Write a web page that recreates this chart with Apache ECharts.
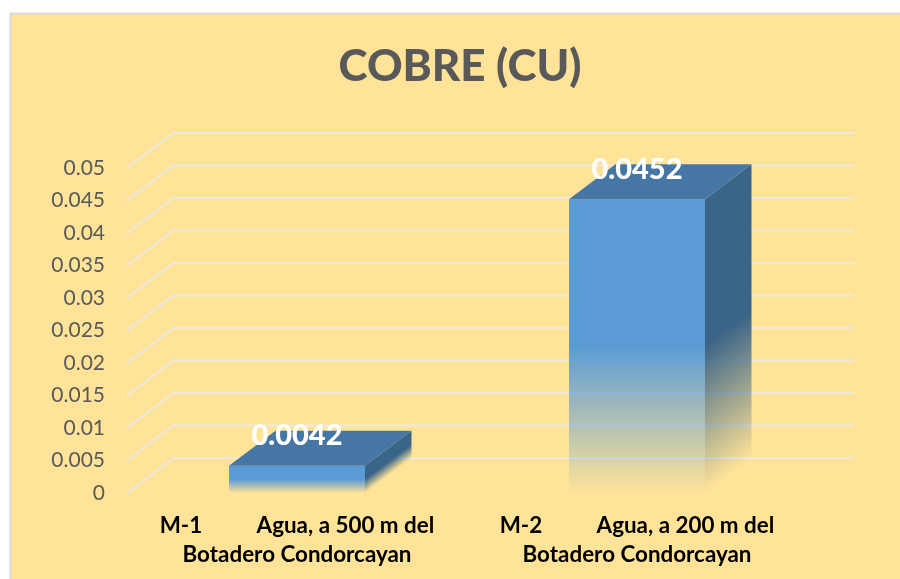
<!DOCTYPE html>
<html>
<head>
<meta charset="utf-8">
<style>html,body{margin:0;padding:0;background:#fff}#c{width:900px;height:579px}</style>
<script src="https://cdn.jsdelivr.net/npm/echarts@6/dist/echarts.min.js"></script>
</head>
<body>
<div id="c"></div>
<script>
var titleText = 'COBRE (CU)';
var categories = ['M-1          Agua, a 500 m del\nBotadero Condorcayan', 'M-2          Agua, a 200 m del\nBotadero Condorcayan'];
var values = [0.0042, 0.0452];
var valueLabels = ['0.0042', '0.0452'];
var yTicks = [0, 0.005, 0.01, 0.015, 0.02, 0.025, 0.03, 0.035, 0.04, 0.045, 0.05];

var DX = 46.5, DY = -35;
var FONT = 'Lato, "Noto Sans", sans-serif';
var FRONT = '#5B9BD5', SIDE = '#3B6587', TOP = '#4676A3', GRID = '#ECE9E0', BG = '#FEE398';

function fade(hex, a) {
  var n = parseInt(hex.slice(1), 16);
  return 'rgba(' + (n >> 16) + ',' + ((n >> 8) & 255) + ',' + (n & 255) + ',' + a + ')';
}
function fadeStops(hex) {
  return [
    {offset: 0, color: fade(hex, 1)},
    {offset: 0.5, color: fade(hex, 1)},
    {offset: 1, color: fade(hex, 0)}
  ];
}

function renderGrid(params, api) {
  var cs = params.coordSys;
  var y = api.coord([0, api.value(1)])[1];
  var x0 = cs.x, x1 = cs.x + cs.width;
  return {
    type: 'polyline',
    shape: {points: [[x0, y], [x0 + DX, y + DY], [x1 + DX, y + DY]]},
    style: {stroke: GRID, lineWidth: 2, fill: null},
    silent: true
  };
}

function renderBar(params, api) {
  var idx = api.value(0);
  var v = api.value(1);
  var top = api.coord([idx, v]);
  var base = api.coord([idx, 0]);
  var w = api.size([1, 0])[0] / 2.5;
  var l = top[0] - w / 2, r = top[0] + w / 2;
  var t = top[1], b = base[1];
  var h = b - t;
  var len = Math.sqrt(DX * DX + DY * DY);
  var ux = -DY / len, uy = DX / len;
  var run = h * uy;
  var sideGrad = new echarts.graphic.LinearGradient(
    r, t, r + ux * run, t + uy * run, fadeStops(SIDE), true);
  var frontGrad = new echarts.graphic.LinearGradient(0, 0, 0, 1, fadeStops(FRONT));
  return {
    type: 'group',
    children: [
      {type: 'polygon',
       shape: {points: [[r, t], [r + DX, t + DY], [r + DX, b + DY], [r, b]]},
       style: {fill: sideGrad}},
      {type: 'rect',
       shape: {x: l, y: t, width: w, height: h},
       style: {fill: frontGrad}},
      {type: 'polygon',
       shape: {points: [[l, t], [l + DX, t + DY], [r + DX, t + DY], [r, t]]},
       style: {fill: TOP}},
      {type: 'text',
       x: top[0], y: t - 30,
       z2: 10,
       style: {text: valueLabels[idx], fill: '#FFFFFF', font: '900 29px ' + FONT,
               align: 'center', verticalAlign: 'middle'}}
    ]
  };
}

var chart = echarts.init(document.getElementById('c'), null, {renderer: 'canvas'});
chart.setOption({
  animation: false,
  backgroundColor: '#FFFFFF',
  graphic: [{
    type: 'rect', z: -100, silent: true,
    shape: {x: 10.5, y: 13.5, width: 900, height: 600},
    style: {fill: BG, stroke: '#D9D9D9', lineWidth: 2}
  }],
  title: {
    text: titleText, left: 455, top: 40, textAlign: 'center',
    textStyle: {color: '#595959', fontFamily: FONT, fontWeight: 900, fontSize: 44}
  },
  grid: {left: 127, top: 168, width: 680, height: 325},
  xAxis: {
    type: 'category', data: categories,
    axisLine: {show: false}, axisTick: {show: false}, splitLine: {show: false},
    axisLabel: {interval: 0, color: '#000000', fontFamily: FONT, fontWeight: 'bold',
                fontSize: 22.4, lineHeight: 29, margin: 18}
  },
  yAxis: {
    type: 'value', min: 0, max: 0.05, interval: 0.005,
    axisLine: {show: false}, axisTick: {show: false}, splitLine: {show: false},
    axisLabel: {color: '#595959', fontFamily: FONT, fontSize: 21, margin: 22}
  },
  series: [
    {type: 'custom', z: 1, clip: false, silent: true, renderItem: renderGrid,
     encode: {x: 0, y: 1},
     data: yTicks.map(function (t) { return [0, t]; })},
    {type: 'custom', z: 2, clip: false, silent: true, renderItem: renderBar,
     encode: {x: 0, y: 1},
     data: values.map(function (v, i) { return [i, v]; })}
  ]
});
</script>
</body>
</html>
